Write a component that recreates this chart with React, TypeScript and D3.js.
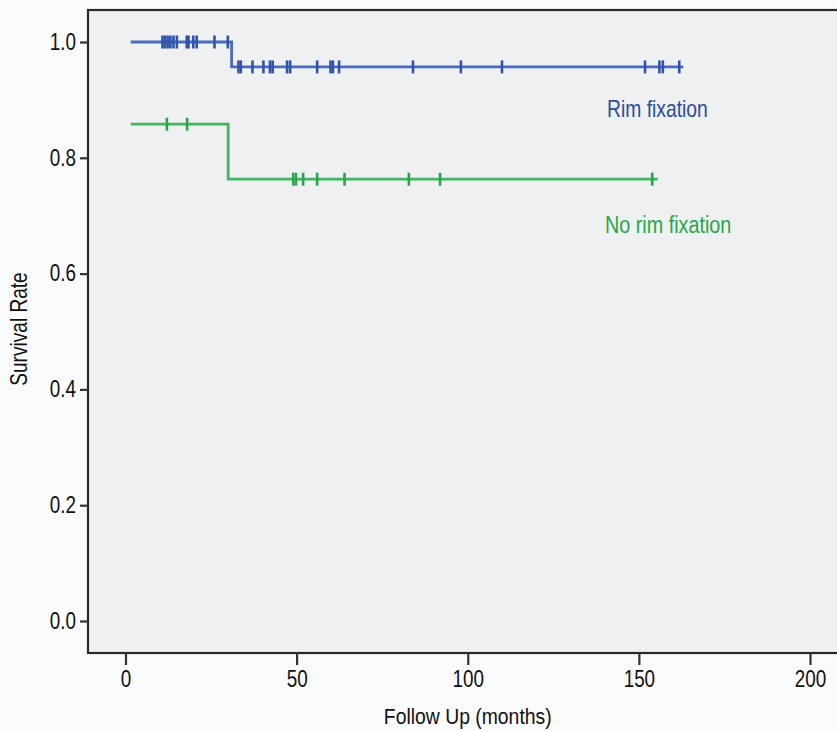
import React, {useEffect, useRef} from 'react'
import * as d3 from 'd3'

// step curves: [month, survival]
const rimSteps = [[1.5, 1.0], [31, 0.957], [163, 0.957]]
const noRimSteps = [[1.5, 0.858], [30, 0.763], [155.5, 0.763]]

// censored follow-up times (months)
const rimCensored = [10.8, 11.5, 12.3, 13.1, 14, 15, 17.9, 18.4, 19.8, 20.8, 26, 29.9,
  33, 33.7, 37.1, 40.3, 42.2, 43, 47.2, 48.1, 56, 59.9, 60.6, 62.4, 84, 98, 110, 151.8, 156, 157, 161.8]
const noRimCensored = [12.1, 18, 49, 49.8, 51.9, 56, 64, 82.8, 91.9, 153.9]

const xTicks = [0, 50, 100, 150, 200]
const yTicks = [0, 0.2, 0.4, 0.6, 0.8, 1.0]

const FONT = '"Liberation Sans", Arial, sans-serif'
const NARROW = 0.82

export default function App(){
  const ref = useRef<SVGSVGElement>(null)
  useEffect(()=>{
    const el = ref.current
    if(!el) return
    const svg = d3.select(el)
    svg.selectAll('*').remove()
    const w = 837, h = 731
    const x = d3.scaleLinear().domain([0, 200]).range([125.5, 810])
    const y = d3.scaleLinear().domain([0, 1]).range([621, 42])
    const left = 88, top = 10, bottom = 653

    svg.append('rect').attr('width', w).attr('height', h).attr('fill', '#fafbfc')
    svg.append('rect').attr('x', left).attr('y', top).attr('width', w + 20 - left).attr('height', bottom - top)
      .attr('fill', '#eef0f1').attr('stroke', '#2a2a2a').attr('stroke-width', 2.2)

    const xAxis = svg.append('g').attr('transform', `translate(0,${bottom})`)
      .call(d3.axisBottom(x).tickValues(xTicks).tickSize(12).tickPadding(6).tickFormat(d3.format('d')))
    xAxis.select('.domain').remove()
    xAxis.selectAll('line').attr('stroke', '#333').attr('stroke-width', 2.2)
    xAxis.selectAll('text').attr('font-family', FONT).attr('font-size', 23).attr('fill', '#111')
      .attr('transform', `scale(${NARROW},1)`)

    const yAxis = svg.append('g').attr('transform', `translate(${left},0)`)
      .call(d3.axisLeft(y).tickValues(yTicks).tickSize(8).tickPadding(4).tickFormat(d3.format('.1f')))
    yAxis.select('.domain').remove()
    yAxis.selectAll('line').attr('stroke', '#333').attr('stroke-width', 2.2)
    yAxis.selectAll('text').attr('font-family', FONT).attr('font-size', 23).attr('fill', '#111')
      .attr('x', -12 / NARROW).attr('transform', `scale(${NARROW},1)`)

    const line = d3.line<number[]>().x(d=>x(d[0])).y(d=>y(d[1])).curve(d3.curveStepAfter)

    const drawCurve = (steps: number[][], cens: number[], color: string, markColor: string) => {
      svg.append('path').datum(steps).attr('d', line).attr('fill', 'none')
        .attr('stroke', color).attr('stroke-width', 2.8)
      const level = (t: number) => {
        let v = steps[0][1]
        for (const s of steps) if (s[0] <= t) v = s[1]
        return v
      }
      svg.append('g').selectAll('line').data(cens).enter().append('line')
        .attr('x1', d=>x(d)).attr('x2', d=>x(d))
        .attr('y1', d=>y(level(d)) - 6.5).attr('y2', d=>y(level(d)) + 6.5)
        .attr('stroke', markColor).attr('stroke-width', 2.6)
    }
    drawCurve(rimSteps, rimCensored, '#4a6cc0', '#2f53a8')
    drawCurve(noRimSteps, noRimCensored, '#44b560', '#2aa34c')

    const label = (tx: number, ty: number, txt: string, size: number, color: string, sx: number, rot = 0, anchor = 'start') => {
      svg.append('text').attr('transform', `translate(${tx},${ty}) rotate(${rot}) scale(${sx},1)`)
        .attr('text-anchor', anchor).attr('font-family', FONT).attr('font-size', size)
        .attr('fill', color).text(txt)
    }
    label(607, 117, 'Rim fixation', 23, '#2c4c9e', 0.84)
    label(605, 233, 'No rim fixation', 23, '#28a64a', 0.86)
    label(x(100), 724, 'Follow Up (months)', 22, '#111', 0.88, 0, 'middle')
    label(27, 329, 'Survival Rate', 23, '#111', 0.83, -90, 'middle')
  },[])

  return (
    <svg ref={ref} width={837} height={731} style={{position:'absolute', left:0, top:0, display:'block'}}></svg>
  )
}
